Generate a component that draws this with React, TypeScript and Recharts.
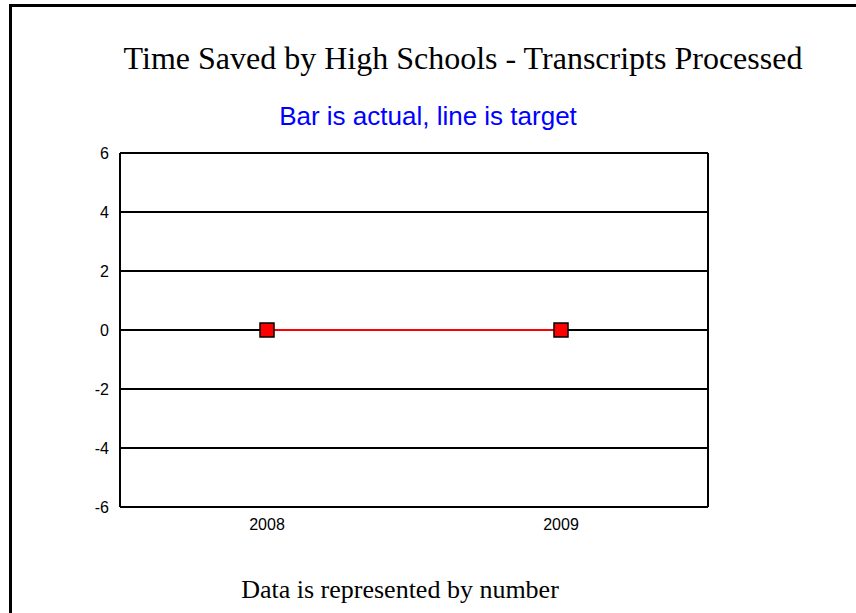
import React from 'react';
import {
  ComposedChart,
  Bar,
  Line,
  XAxis,
  YAxis,
  CartesianGrid,
} from 'recharts';

const years = ['2008', '2009'];
const actual = [0, 0];
const target = [0, 0];
const yTicks = [-6, -4, -2, 0, 2, 4, 6];

const chartData = years.map((year, i) => ({
  year,
  actual: actual[i],
  target: target[i],
}));

function SquareDot(props: any) {
  const { cx, cy } = props;
  if (cx == null || cy == null) return null;
  return (
    <rect
      x={cx - 7}
      y={cy - 7}
      width={14}
      height={14}
      fill="#ff0000"
      stroke="#000"
      strokeWidth={1.5}
    />
  );
}

const tickStyle = {
  fontFamily: 'Arial, "Liberation Sans", sans-serif',
  fontSize: 16,
  fill: '#000',
};

const axisLine = { stroke: '#000', strokeWidth: 2 };

export default function App() {
  return (
    <div
      style={{
        position: 'absolute',
        left: 0,
        top: 0,
        width: 856,
        height: 613,
        background: '#fff',
        overflow: 'hidden',
      }}
    >
      <div
        style={{
          position: 'absolute',
          left: 9,
          top: 4,
          width: 900,
          height: 700,
          border: '3px solid #000',
        }}
      />
      <div
        style={{
          position: 'absolute',
          left: 0,
          top: 40,
          width: 926,
          textAlign: 'center',
          fontFamily: '"Times New Roman", "Liberation Serif", serif',
          fontSize: 32,
          lineHeight: '36px',
          color: '#000',
        }}
      >
        Time Saved by High Schools - Transcripts Processed
      </div>
      <div
        style={{
          position: 'absolute',
          left: 0,
          top: 101,
          width: 856,
          textAlign: 'center',
          fontFamily: 'Arial, "Liberation Sans", sans-serif',
          fontSize: 26,
          lineHeight: '30px',
          color: '#0000ff',
        }}
      >
        Bar is actual, line is target
      </div>
      <div
        style={{
          position: 'absolute',
          left: 0,
          top: 575,
          width: 800,
          textAlign: 'center',
          fontFamily: '"Times New Roman", "Liberation Serif", serif',
          fontSize: 26,
          lineHeight: '30px',
          color: '#000',
        }}
      >
        Data is represented by number
      </div>
      <div style={{ position: 'absolute', left: 0, top: 0 }}>
        <ComposedChart
          width={856}
          height={613}
          data={chartData}
          margin={{ top: 153, right: 147, bottom: 76, left: 60 }}
        >
          <CartesianGrid
            xAxisId="main"
            yAxisId="main"
            horizontal={true}
            vertical={false}
            stroke="#000"
            strokeWidth={2}
          />
          <XAxis
            xAxisId="main"
            dataKey="year"
            height={30}
            axisLine={axisLine}
            tickLine={false}
            tick={tickStyle}
            tickMargin={6}
          />
          <XAxis
            xAxisId="top"
            dataKey="year"
            orientation="top"
            height={0}
            axisLine={axisLine}
            tickLine={false}
            tick={false}
          />
          <YAxis
            yAxisId="main"
            domain={[-6, 6]}
            ticks={yTicks}
            width={60}
            axisLine={axisLine}
            tickLine={false}
            tick={tickStyle}
            tickMargin={5}
            interval={0}
          />
          <YAxis
            yAxisId="right"
            orientation="right"
            domain={[-6, 6]}
            ticks={yTicks}
            width={1}
            axisLine={axisLine}
            tickLine={false}
            tick={false}
          />
          <Bar
            xAxisId="main"
            yAxisId="main"
            dataKey="actual"
            fill="#0000ff"
            isAnimationActive={false}
          />
          <Line
            xAxisId="main"
            yAxisId="main"
            dataKey="target"
            stroke="#ff0000"
            strokeWidth={2}
            dot={<SquareDot />}
            activeDot={false}
            isAnimationActive={false}
          />
        </ComposedChart>
      </div>
    </div>
  );
}
